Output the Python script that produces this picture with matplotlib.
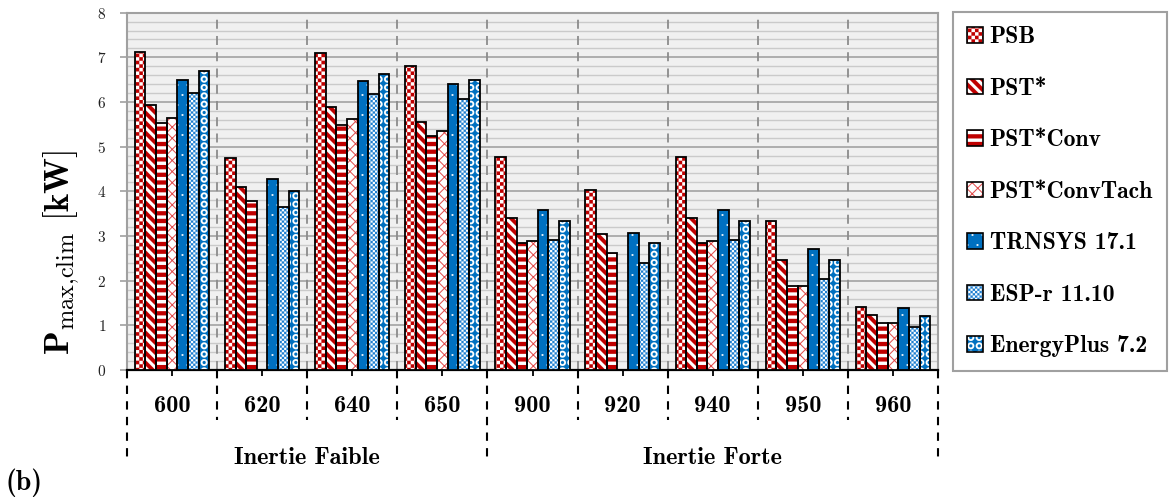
import numpy as np
import matplotlib
matplotlib.use("Agg")
import matplotlib.pyplot as plt
import matplotlib.hatch as mhatch
from matplotlib.path import Path
from matplotlib.patches import Rectangle
from matplotlib.legend_handler import HandlerTuple
from matplotlib.font_manager import FontProperties

cases = ["600", "620", "640", "650", "900", "920", "940", "950", "960"]
families = ["Inertie Faible", "Inertie Forte"]
family_sizes = [4, 5]

names = ["PSB", "PST*", "PST*Conv", "PST*ConvTach", "TRNSYS 17.1", "ESP-r 11.10", "EnergyPlus 7.2"]
psb = [7.12, 4.75, 7.10, 6.81, 4.78, 4.02, 4.78, 3.34, 1.40]
pst = [5.94, 4.10, 5.88, 5.56, 3.40, 3.05, 3.40, 2.46, 1.24]
pst_conv = [5.53, 3.79, 5.49, 5.24, 2.85, 2.63, 2.85, 1.89, 1.05]
pst_conv_tach = [5.64, np.nan, 5.61, 5.36, 2.88, np.nan, 2.89, 1.89, 1.06]
trnsys = [6.50, 4.28, 6.47, 6.40, 3.58, 3.07, 3.58, 2.70, 1.39]
esp_r = [6.20, 3.66, 6.18, 6.06, 2.90, 2.40, 2.90, 2.04, 0.97]
eplus = [6.69, 4.01, 6.63, 6.50, 3.33, 2.85, 3.34, 2.46, 1.22]

RED = "#c00000"
BLUE = "#0070c0"

plt.rcParams["mathtext.fontset"] = "cm"
plt.rcParams["axes.formatter.use_mathtext"] = True
plt.rcParams["hatch.linewidth"] = 0.05


# --- home-made hatch tiles (unit square = one hatch tile) ---
def closed(pts):
    pts = [tuple(p) for p in pts]
    return Path(np.array(pts + [pts[0]]), closed=True)


def rect(x0, y0, x1, y1):
    return closed([(x0, y0), (x1, y0), (x1, y1), (x0, y1)])


def checker(n):
    return [rect(i / n, j / n, (i + 1) / n, (j + 1) / n)
            for i in range(n) for j in range(n) if (i + j) % 2 == 0]


def diag(k, w, up=False):
    out = []
    for c in range(-2, 2 * k + 3):
        y0 = c / k
        if up:
            out.append(closed([(0, y0 - 1), (1, y0), (1, y0 + w), (0, y0 - 1 + w)]))
        else:
            out.append(closed([(0, y0), (1, y0 - 1), (1, y0 - 1 + w), (0, y0 + w)]))
    return out


def hstripes(k, frac):
    return [rect(0, j / k, 1, j / k + frac / k) for j in range(k)]


def dots(k, s):
    out = []
    for j in range(k):
        for i in range(k):
            x = (i + 0.5 * (j % 2) + 0.25) / k
            y = (j + 0.5) / k
            out.append(rect(x - s / 2, y - s / 2, x + s / 2, y + s / 2))
    return out


def rings(k, r_out, r_in):
    t = np.linspace(0, 2 * np.pi, 18, endpoint=False)
    out = []
    for j in range(k):
        for i in range(k):
            cx, cy = (i + 0.5) / k, (j + 0.5) / k
            outer = np.c_[cx + r_out / k * np.cos(t), cy + r_out / k * np.sin(t)]
            inner = np.c_[cx + r_in / k * np.cos(t), cy + r_in / k * np.sin(t)][::-1]
            out.append(Path.make_compound_path(closed(outer), closed(inner)))
    return out


CUSTOM = {
    "+": Path.make_compound_path(*checker(28)),
    "\\": Path.make_compound_path(*diag(10, 0.055)),
    "-": Path.make_compound_path(*hstripes(13, 0.55)),
    "x": Path.make_compound_path(*(diag(9, 0.013) + diag(9, 0.013, up=True))),
    ".": Path.make_compound_path(*dots(10, 0.017)),
    "*": Path.make_compound_path(*checker(44)),
    "O": Path.make_compound_path(*rings(12, 0.42, 0.2)),
}

_orig_get_path = mhatch.get_path


def get_path(pattern, density=6):
    if pattern in CUSTOM:
        return CUSTOM[pattern]
    return _orig_get_path(pattern, density)


mhatch.get_path = get_path

series = [psb, pst, pst_conv, pst_conv_tach, trnsys, esp_r, eplus]
faces = ["white", "white", "white", "white", BLUE, "white", BLUE]
hcolors = [RED, RED, RED, "#e04848", "white", "#1e7fd0", "white"]
hatches = ["+", "\\", "-", "x", ".", "*", "O"]

fig = plt.figure(figsize=(11.7, 5), dpi=100)
ax = fig.add_axes([127 / 1170, 1 - 370 / 500, 811 / 1170, 357.3 / 500])
ax.set_facecolor("#f0f0f0")

x = np.arange(len(cases))
width = 0.118
handles = []
for i, vals in enumerate(series):
    pos = x + (i - 3) * width
    ax.bar(pos, vals, width, color=faces[i], edgecolor=hcolors[i], linewidth=0,
           hatch=hatches[i], zorder=3)
    ax.bar(pos, vals, width, fill=False, edgecolor="black", linewidth=1.3, zorder=4)
    handles.append((Rectangle((0, 0), 1, 1, facecolor=faces[i], edgecolor=hcolors[i],
                              linewidth=0, hatch=hatches[i]),
                    Rectangle((0, 0), 1, 1, fill=False, edgecolor="black", linewidth=1.2)))

ax.set_xlim(-0.5, len(cases) - 0.5)
ax.set_ylim(0, 8)
ax.set_yticks(range(9))
ax.set_yticks(np.arange(0, 8.01, 0.2), minor=True)
ax.yaxis.grid(True, which="major", color="#a8a8a8", lw=1.3, zorder=0)
ax.yaxis.grid(True, which="minor", color="#cacaca", lw=1.0, zorder=0)
ax.set_axisbelow(True)
for b in np.arange(0.5, len(cases) - 1):
    ax.axvline(b, color="#8c8c8c", lw=1.3, ls=(0, (5, 4)), zorder=1)

for s in ["left", "top", "right"]:
    ax.spines[s].set_color("#a0a0a0")
    ax.spines[s].set_linewidth(1.5)
ax.spines["bottom"].set_color("black")
ax.spines["bottom"].set_linewidth(1.6)

ax.tick_params(axis="y", which="major", direction="out", length=5, width=1.2,
               color="#a0a0a0", labelcolor="#222222", pad=10, labelsize=11)
ax.tick_params(axis="y", which="minor", length=0)
for lab in ax.get_yticklabels():
    lab.set_fontfamily("cmr10")
ax.set_xticks(x)
ax.set_xticklabels([])
ax.tick_params(axis="x", direction="out", length=4, width=1.3, color="black")

ax.set_ylabel(r"$\mathbf{P}_{\mathrm{max{,}clim}}\ \mathbf{[kW]}$", fontsize=25)
ax.yaxis.set_label_coords(-0.056, 0.33)

# category axis below the plot
tr = ax.get_xaxis_transform()
edges = np.cumsum([0] + family_sizes) - 0.5
for b in np.arange(-0.5, len(cases)):
    y_end = -0.26 if b in edges else -0.14
    ax.plot([b, b], [0, y_end], transform=tr, color="black", lw=1.5,
            ls=(0, (4, 3.5)), clip_on=False)
for xi, c in zip(x, cases):
    ax.text(xi, -0.1, c, transform=tr, ha="center", va="center",
            fontfamily="cmb10", fontsize=17.5)
for k, fam in enumerate(families):
    ax.text((edges[k] + edges[k + 1]) / 2, -0.246, fam, transform=tr, ha="center",
            va="center", fontfamily="cmb10", fontsize=17.5)

fig.text(0.005, 0.034, "(b)", fontfamily="cmb10", fontsize=20, ha="left", va="center")

leg = fig.legend(handles, names, loc="upper left",
                 bbox_to_anchor=(953 / 1170, 1 - 12 / 500),
                 handler_map={tuple: HandlerTuple(ndivide=1, pad=0)},
                 prop=FontProperties(family="cmb10", size=17),
                 handlelength=0.65, handleheight=0.65, handletextpad=0.3,
                 labelspacing=1.25, borderaxespad=0, borderpad=0.6,
                 fancybox=False, edgecolor="#a0a0a0", framealpha=1)
leg.get_frame().set_linewidth(1.5)

fig.savefig("out.png", dpi=100)
